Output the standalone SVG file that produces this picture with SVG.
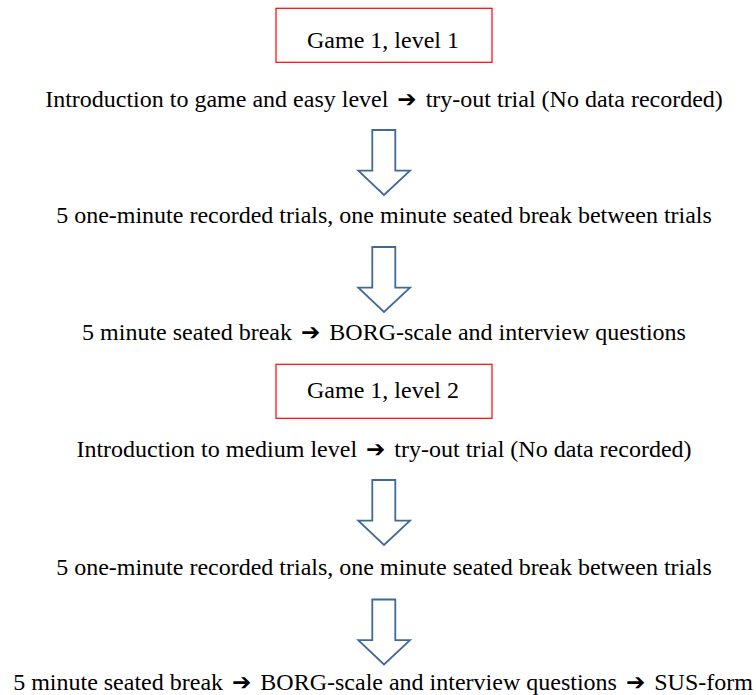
<svg xmlns="http://www.w3.org/2000/svg" width="756" height="695" viewBox="0 0 756 695">
<style>
text{font-family:'Liberation Serif','Times New Roman',Times,serif;font-size:24px;fill:#000;text-anchor:middle}
.ar{font-family:'DejaVu Sans',sans-serif;font-weight:bold;font-size:23px}
.box{fill:#fff;stroke:#ff0000;stroke-width:1.2}
.down{fill:#fff;stroke:#41689b;stroke-width:1.8;stroke-linejoin:miter}
</style>
<defs>
<path id="dn" class="down" d="M-11.7,0 H11.3 V40.7 H26 L0,65 L-25.7,40.7 H-11.7 Z"/>
</defs>
<rect width="756" height="695" fill="#fff"/>
<g id="title1"><rect class="box" x="276" y="8.3" width="216" height="54"/><text x="383" y="48">Game 1, level 1</text></g>
<g id="step1"><text x="384" y="106.7">Introduction to game and easy level <tspan class="ar" dx="3">➔</tspan><tspan dx="3"> try-out trial (No data recorded)</tspan></text></g>
<g id="step2"><text x="384" y="223">5 one-minute recorded trials, one minute seated break between trials</text></g>
<g id="step3"><text x="384" y="340">5 minute seated break <tspan class="ar" dx="3">➔</tspan><tspan dx="3"> BORG-scale and interview questions</tspan></text></g>
<g id="title2"><rect class="box" x="276" y="364.3" width="216" height="54"/><text x="383" y="398">Game 1, level 2</text></g>
<g id="step4"><text x="384" y="456.7">Introduction to medium level <tspan class="ar" dx="3">➔</tspan><tspan dx="3"> try-out trial (No data recorded)</tspan></text></g>
<g id="step5"><text x="384" y="575">5 one-minute recorded trials, one minute seated break between trials</text></g>
<g id="step6"><text x="383" y="690">5 minute seated break <tspan class="ar" dx="3">➔</tspan><tspan dx="3"> BORG-scale and interview questions </tspan><tspan class="ar" dx="3">➔</tspan><tspan dx="3"> SUS-form</tspan></text></g>
<g id="connectors">
<use href="#dn" x="384" y="130"/>
<use href="#dn" x="384" y="247"/>
<use href="#dn" x="384" y="480"/>
<use href="#dn" x="384" y="599.5"/>
</g>
</svg>
